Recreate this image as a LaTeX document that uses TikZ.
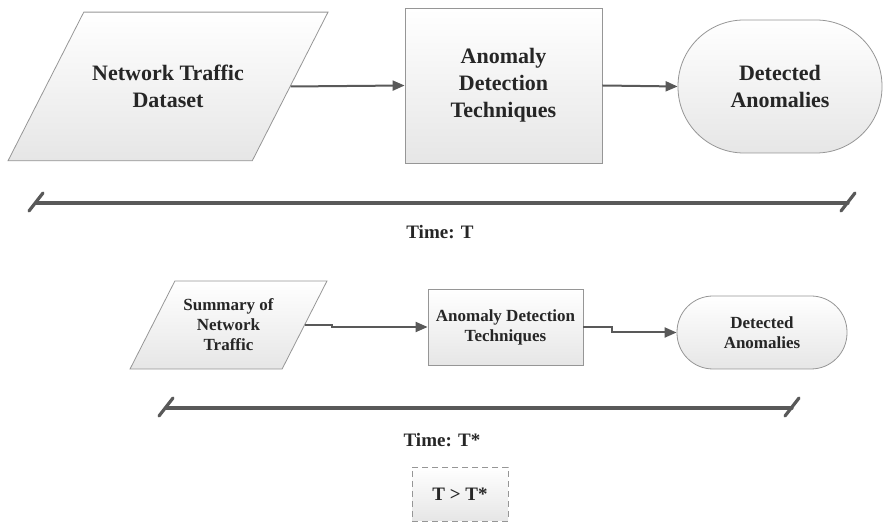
\documentclass[tikz,border=0pt]{standalone}
\usepackage{fontspec}
\setmainfont{Liberation Serif}
\usetikzlibrary{calc, positioning, arrows.meta, shapes.geometric}
\definecolor{linegrey}{RGB}{89,89,89}
\definecolor{edgegrey}{RGB}{150,150,150}
\definecolor{fillgrey}{RGB}{230,230,230}
\definecolor{textgrey}{RGB}{38,38,38}

\tikzset{
  box/.style={draw=edgegrey, top color=white, bottom color=fillgrey, align=center, text=textgrey, inner sep=2pt},
  datain/.style={box, trapezium, trapezium left angle=63, trapezium right angle=117, trapezium stretches body},
  stadium/.style={box, rounded corners=#1},
  flow/.style={draw=linegrey, line width=1pt, -{Triangle[length=6pt,width=5pt]}},
  span/.style={draw=linegrey, line width=1.6pt, line cap=round},
  bigtxt/.style={font=\bfseries\fontsize{11}{13.5}\selectfont},
  smalltxt/.style={font=\bfseries\fontsize{8.5}{10}\selectfont},
}

\begin{document}
\begin{tikzpicture}[x=0.5pt, y=-0.5pt]
  \useasboundingbox (0,0) rectangle (884,523);
  % time T
  \node[datain, bigtxt, inner ysep=26.5pt, minimum width=160pt] (ntd) at (168,86.5) {Network Traffic\\Dataset};
  \node[box, bigtxt, minimum width=98.5pt, minimum height=77.5pt] (adt) at (503.5,85.5) {Anomaly\\Detection\\Techniques};
  \node[stadium=33pt, bigtxt, minimum width=102pt, minimum height=66.5pt] (dan) at (780,86.5) {Detected\\Anomalies};
  \draw[flow] (ntd.east) -- (adt.west);
  \draw[flow] (adt.east) -- (dan.west);
  \coordinate (t1s) at (36,203);
  \coordinate (t1e) at (848,203);
  \draw[span] (t1s) -- (t1e);
  \node[font=\bfseries\fontsize{9.5}{11}\selectfont, text=textgrey] (tt) at (440,232) {Time: T};

  % time T*
  \node[datain, smalltxt, inner ysep=9pt, minimum width=98.5pt] (snt) at (228.5,325) {Summary of\\Network\\Traffic};
  \node[box, smalltxt, minimum width=77.5pt, minimum height=38pt] (adb) at (505.5,327) {Anomaly Detection\\Techniques};
  \node[stadium=18pt, smalltxt, minimum width=85pt, minimum height=36.5pt] (dab) at (762,332.5) {Detected\\Anomalies};
  \draw[flow] (snt.east) -- ++(27,0) |- (adb.west);
  \draw[flow] (adb.east) -- ++(29,0) |- (dab.west);
  \coordinate (t2s) at (166,408);
  \coordinate (t2e) at (792,408);
  \draw[span] (t2s) -- (t2e);
  \node[font=\bfseries\fontsize{9.5}{11}\selectfont, text=textgrey] (tst) at (442,440) {Time: T*};

  \foreach \e in {t1s,t1e,t2s,t2e}
    \draw[span] ($(\e)+(-7,8)$) -- ($(\e)+(7,-10)$);

  \node[box, dashed, dash pattern=on 3pt off 2pt, font=\bfseries\fontsize{9.5}{11}\selectfont,
        minimum width=48pt, minimum height=27pt] (cmp) at (460,494) {T > T*};
\end{tikzpicture}
\end{document}
